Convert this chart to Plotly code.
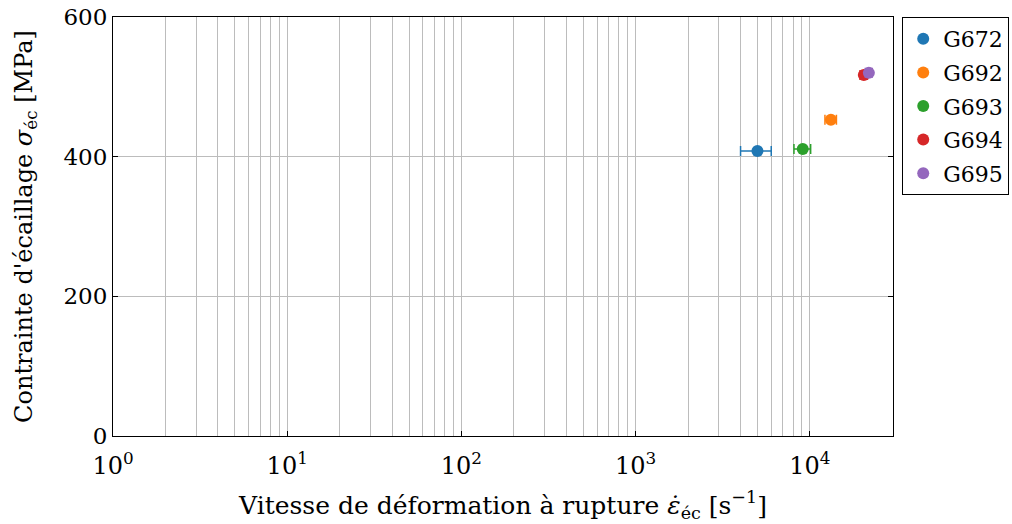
import plotly.graph_objects as go

names = ["G672", "G692", "G693", "G694", "G695"]
rate = [5000, 13200, 9100, 20400, 21800]
rate_err = [1000, 1000, 1000, 1000, 1000]
stress = [408, 453, 411, 517, 520]
colors = ["#1f77b4", "#ff7f0e", "#2ca02c", "#d62728", "#9467bd"]

major_x = [1, 10, 100, 1000, 10000]
major_x_text = ["10<sup>0</sup>", "10<sup>1</sup>", "10<sup>2</sup>", "10<sup>3</sup>", "10<sup>4</sup>"]
minor_x = [m * 10 ** k for k in range(4) for m in range(2, 10)]
y_ticks = [0, 200, 400, 600]

FONT = "DejaVu Serif"
FS = 23
TFS = 24

fig = go.Figure()
for n, x, e, y, c in zip(names, rate, rate_err, stress, colors):
    fig.add_trace(go.Scatter(
        x=[x], y=[y], name=n, mode="markers", legendgroup=n,
        marker=dict(color=c, size=12),
        error_x=dict(type="data", array=[e], color=c, thickness=1.5, width=5),
    ))

fig.update_layout(
    width=1012, height=524,
    margin=dict(l=113, r=119, t=17, b=88, autoexpand=False),
    plot_bgcolor="white", paper_bgcolor="white",
    font=dict(family=FONT, size=FS, color="black"),
    legend=dict(x=1.149, y=1.0, xanchor="right", yanchor="top",
                bordercolor="black", borderwidth=1,
                font=dict(family=FONT, size=FS - 1, color="black"),
                itemsizing="constant", itemwidth=30, tracegroupgap=2),
)
fig.update_xaxes(
    type="log", range=[0, 4.477], automargin=False, ticklabeloverflow="allow",
    tickvals=major_x, ticktext=major_x_text, ticklabelstandoff=8,
    tickfont=dict(family=FONT, size=FS + 1),
    showgrid=True, gridcolor="#bcbcbc", gridwidth=1,
    minor=dict(tickvals=minor_x, showgrid=True, gridcolor="#bcbcbc", gridwidth=1,
               ticks="inside", ticklen=3, tickcolor="#bcbcbc"),
    ticks="inside", ticklen=5, tickcolor="black",
    showline=True, linecolor="black", linewidth=1, mirror=True,
    zeroline=False,
    title=dict(text="Vitesse de déformation à rupture <span style=\"font-family:DejaVu Serif\"><i>ε̇</i></span><sub>éc</sub> [s<sup>−1</sup>]",
               standoff=17, font=dict(family=FONT, size=TFS + 1)),
)
fig.update_yaxes(
    range=[0, 600], tickvals=y_ticks, automargin=False, ticklabeloverflow="allow",
    tickfont=dict(family=FONT, size=FS),
    showgrid=True, gridcolor="#bcbcbc", gridwidth=1,
    ticks="inside", ticklen=5, tickcolor="black",
    showline=True, linecolor="black", linewidth=1, mirror="ticks",
    zeroline=False,
    title=dict(text="Contrainte d'écaillage <i>σ</i><sub>éc</sub> [MPa]", standoff=24,
               font=dict(family=FONT, size=TFS)),
)
fig.write_html("out.html", config={"displayModeBar": False},
               post_script="document.body.style.margin='0';")
